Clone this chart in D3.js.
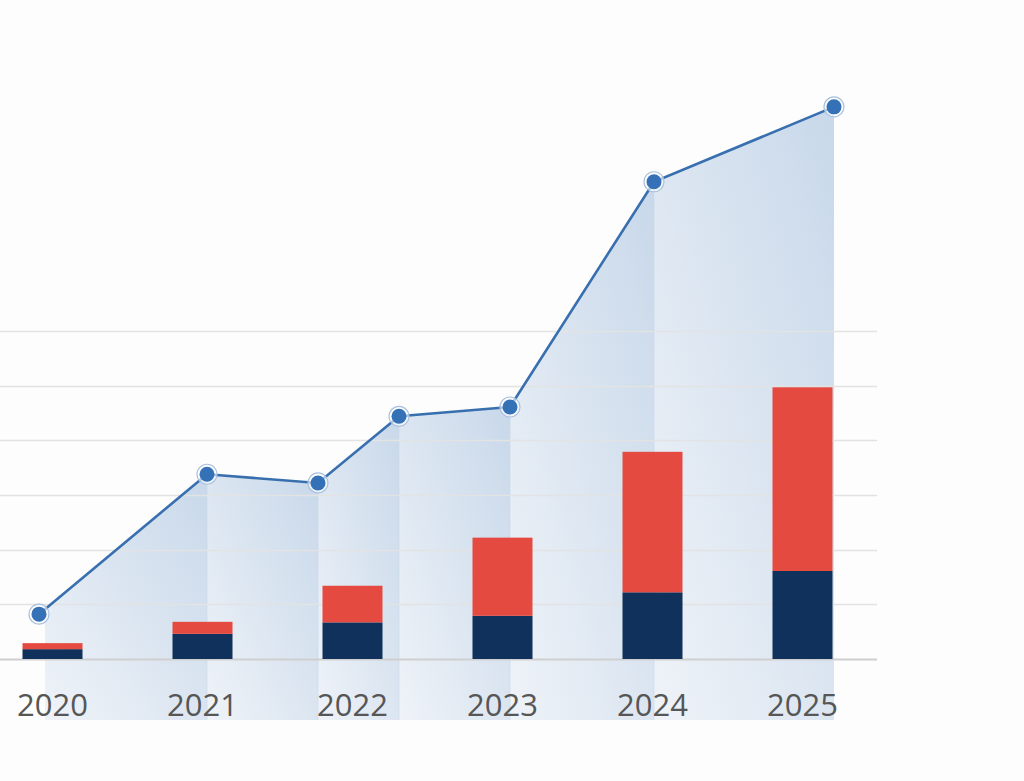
<!DOCTYPE html>
<html>
<head>
<meta charset="utf-8">
<script src="https://cdn.jsdelivr.net/npm/d3@7"></script>
<style>
  html, body { margin: 0; padding: 0; background: #fdfdfd; }
  svg { display: block; }
</style>
</head>
<body>
<svg id="chart" width="1024" height="781"></svg>
<script>
// ---- data ----
const years = ["2020", "2021", "2022", "2023", "2024", "2025"];
const baseValues = [1.8, 4.6, 6.7, 7.9, 12.2, 16.1];   // navy segment
const topValues  = [1.1, 2.2, 6.7, 14.3, 25.7, 33.6];  // red segment
const gridTicks  = [0, 10, 20, 30, 40, 50, 60];
const lineYears  = [2019.91, 2021.03, 2021.77, 2022.31, 2023.05, 2024.01, 2025.21];
const lineValues = [8.2, 33.8, 32.2, 44.4, 46.1, 87.3, 101.0];

// ---- layout ----
const svg = d3.select("#chart");
const W = 1024, H = 781;
const baseY = 659, topY = 331, gridRight = 877;

const x = d3.scaleBand().domain(years).range([0, 855]).paddingInner(0.6).paddingOuter(0.15);
const xl = d3.scaleLinear().domain([2020, 2025]).range([x("2020") + x.bandwidth()/2, x("2025") + x.bandwidth()/2]);
const y = d3.scaleLinear().domain([0, 60]).range([baseY, topY]);
const areaBottom = baseY + 61;

svg.append("rect").attr("width", W).attr("height", H).attr("fill", "#fdfdfd");

const defs = svg.append("defs");

// ---- area segments ----
const pts = lineYears.map((yr, i) => [xl(yr), y(lineValues[i])]);
const segs = d3.pairs(pts);
segs.forEach((s, i) => {
  const g = defs.append("linearGradient").attr("id", "g" + i)
    .attr("x1", "1").attr("y1", "0").attr("x2", "0").attr("y2", "1");
  g.append("stop").attr("offset", "0").attr("stop-color", "#c8d8ea");
  g.append("stop").attr("offset", "1").attr("stop-color", "#eff3f8");
});
const areaGen = d3.area().x(d => d[0]).y0(areaBottom).y1(d => d[1]);
svg.append("g").selectAll("path").data(segs).join("path")
  .attr("d", (d, i) => i === 0
        ? areaGen([[d[0][0] + 6, d[0][1] + (d[1][1] - d[0][1]) * 6 / (d[1][0] - d[0][0])], d[1]])
        : areaGen(d))
  .attr("fill", (d, i) => `url(#g${i})`);
// seams
svg.append("g").selectAll("line").data(pts.slice(1, -1)).join("line")
  .attr("x1", d => d[0]).attr("x2", d => d[0])
  .attr("y1", d => d[1]).attr("y2", areaBottom)
  .attr("stroke", "#c9d8e9").attr("stroke-width", 1).attr("opacity", 0.6);

// ---- gridlines ----
svg.append("g").selectAll("line").data(gridTicks).join("line")
  .attr("x1", 0).attr("x2", gridRight)
  .attr("y1", d => Math.round(y(d)) + 0.5).attr("y2", d => Math.round(y(d)) + 0.5)
  .attr("stroke", d => d === 0 ? "#cfcfcf" : "#e3e3e3")
  .attr("stroke-width", d => d === 0 ? 2 : 1.3);

// ---- stacked bars ----
const bars = svg.append("g");
bars.selectAll("rect.base").data(years).join("rect").attr("class", "base")
  .attr("x", d => x(d)).attr("width", x.bandwidth())
  .attr("y", (d, i) => y(baseValues[i]))
  .attr("height", (d, i) => y(0) - y(baseValues[i]))
  .attr("fill", "#0f315b");
bars.selectAll("rect.top").data(years).join("rect").attr("class", "top")
  .attr("x", d => x(d)).attr("width", x.bandwidth())
  .attr("y", (d, i) => y(baseValues[i] + topValues[i]))
  .attr("height", (d, i) => y(baseValues[i]) - y(baseValues[i] + topValues[i]))
  .attr("fill", "#e54a40");

// ---- x labels ----
const xAxis = d3.axisBottom(x).tickSize(0).tickPadding(0);
const ax = svg.append("g").attr("transform", `translate(0, 716)`).call(xAxis);
ax.select(".domain").remove();
ax.selectAll("text")
  .attr("dy", 0).attr("y", 0)
  .attr("font-family", "'Open Sans', sans-serif")
  .attr("font-size", 31)
  .attr("fill", "#565656");

// ---- line + points ----
svg.append("path").datum(pts)
  .attr("d", d3.line())
  .attr("fill", "none").attr("stroke", "#386fae").attr("stroke-width", 2.6);
const pg = svg.append("g").selectAll("g").data(pts).join("g")
  .attr("transform", d => `translate(${d[0]},${d[1]})`);
pg.append("circle").attr("r", 10).attr("fill", "rgba(255,255,255,0.6)")
  .attr("stroke", "#a9c1de").attr("stroke-width", 1.2);
pg.append("circle").attr("r", 7.5).attr("fill", "#3571b6");
</script>
</body>
</html>
